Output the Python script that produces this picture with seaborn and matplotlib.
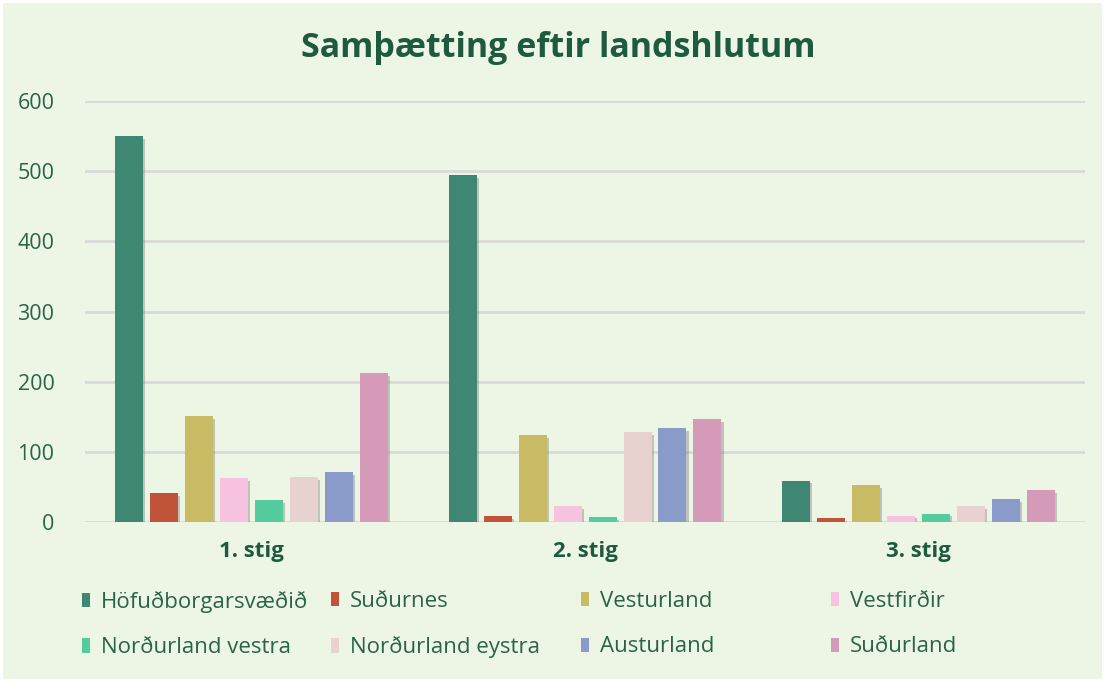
import pandas as pd
import numpy as np
import matplotlib.pyplot as plt
import matplotlib.patheffects as pe
import seaborn as sns

# values
stig = ['1. stig', '2. stig', '3. stig']
regions = ['Höfuðborgarsvæðið', 'Suðurnes', 'Vesturland', 'Vestfirðir',
           'Norðurland vestra', 'Norðurland eystra', 'Austurland', 'Suðurland']
hofudborg = [550, 494, 59]
sudurnes = [41, 8, 5]
vesturland = [151, 124, 53]
vestfirdir = [62, 23, 9]
nl_vestra = [31, 7, 12]
nl_eystra = [64, 128, 23]
austurland = [71, 134, 33]
sudurland = [212, 147, 46]
colors = ['#3E8772', '#C0533A', '#C9BB63', '#F7C3E0',
          '#55CC9E', '#E8D2D0', '#8A9BCA', '#D49AB8']

bg = '#EDF5E5'
green = '#1E5A3E'
tick_green = '#2A6447'

series = [hofudborg, sudurnes, vesturland, vestfirdir,
          nl_vestra, nl_eystra, austurland, sudurland]
rows = []
for region, vals in zip(regions, series):
    for s, v in zip(stig, vals):
        rows.append({'stig': s, 'region': region, 'value': v})
df = pd.DataFrame(rows)

sns.set_style('white')
plt.rcParams['font.family'] = ['Open Sans', 'DejaVu Sans']

fig = plt.figure(figsize=(11.05, 6.82), dpi=100, facecolor=bg)
fig.patch.set_edgecolor('white')
fig.patch.set_linewidth(4)
ax = fig.add_axes([85 / 1105, 1 - 522 / 682, 1000 / 1105, 421 / 682])
ax.set_facecolor(bg)

sns.barplot(data=df, x='stig', y='value', hue='region', hue_order=regions,
            palette=colors, width=0.84, gap=0.2, saturation=1,
            edgecolor='none', ax=ax, zorder=3)

shadow = [pe.SimplePatchShadow(offset=(1.5, -2), shadow_rgbFace='#6b6b6b', alpha=0.35),
          pe.Normal()]
for p in ax.patches:
    p.set_path_effects(shadow)

ax.set_ylim(0, 600)
ax.set_xlim(-0.5, 2.5)
ax.set_yticks(range(0, 601, 100))
ax.yaxis.grid(True, color='#D9D9D9', linewidth=2, zorder=0)
ax.set_axisbelow(True)
sns.despine(ax=ax, left=True, bottom=True)
ax.tick_params(axis='both', length=0)
ax.tick_params(axis='y', labelsize=15.5, labelcolor=tick_green, pad=22)
ax.tick_params(axis='x', labelsize=16, labelcolor=green, pad=14)
for t in ax.get_xticklabels():
    t.set_fontweight('bold')
ax.set_xlabel('')
ax.set_ylabel('')

fig.suptitle('Samþætting eftir landshlutum', x=0.505, y=1 - 31 / 682, fontsize=24.5,
             fontweight='bold', color=green)

# legend: four columns at fixed positions, two rows each
handles, labels = ax.get_legend_handles_labels()
ax.get_legend().remove()
col_x = [82, 331, 581, 831]
for j, x in enumerate(col_x):
    leg = fig.legend([handles[j], handles[j + 4]], [labels[j], labels[j + 4]],
                     loc='upper left', bbox_to_anchor=(x / 1105, 1 - 591 / 682),
                     frameon=False, fontsize=16, handlelength=0.35, handleheight=0.6,
                     handletextpad=0.5, labelspacing=1.1, borderaxespad=0,
                     borderpad=0, labelcolor=tick_green)
    for h in leg.legend_handles:
        h.set_path_effects([])

fig.savefig('out.png', dpi=100, facecolor=bg, edgecolor='white')
